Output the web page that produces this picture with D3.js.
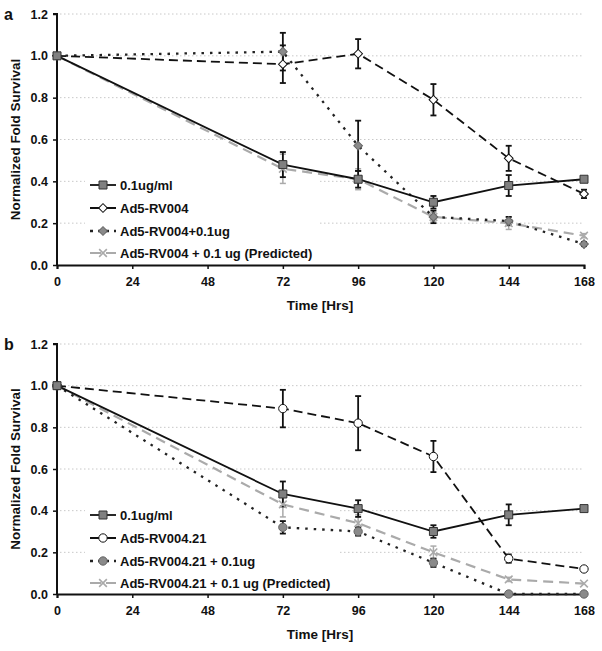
<!DOCTYPE html>
<html>
<head>
<meta charset="utf-8">
<script src="https://cdn.jsdelivr.net/npm/d3@7"></script>
<style>
  body { margin: 0; background: #fff; }
  svg { font-family: "Liberation Sans", Arial, sans-serif; font-weight: bold; }
</style>
</head>
<body>
<script>
// chart data
const hours = [0, 72, 96, 120, 144, 168];
const xTicks = [0, 24, 48, 72, 96, 120, 144, 168];
const yTicks = [0, 0.2, 0.4, 0.6, 0.8, 1.0, 1.2];

// panel a
const aDose = [1.0, 0.48, 0.41, 0.30, 0.38, 0.41];
const aDoseErr = [0, 0.06, 0.04, 0.03, 0.05, 0.01];
const aVirus = [1.0, 0.96, 1.01, 0.79, 0.51, 0.34];
const aVirusErr = [0, 0.09, 0.07, 0.075, 0.06, 0.02];
const aCombo = [1.0, 1.02, 0.57, 0.23, 0.21, 0.10];
const aComboErr = [0, 0.09, 0.12, 0.03, 0.02, 0.01];
const aPred = [1.0, 0.46, 0.41, 0.23, 0.20, 0.14];
const aPredErr = [0, 0.07, 0.05, 0.02, 0.03, 0.01];
const aNames = ["0.1ug/ml", "Ad5-RV004", "Ad5-RV004+0.1ug", "Ad5-RV004 + 0.1 ug (Predicted)"];

// panel b
const bDose = [1.0, 0.48, 0.41, 0.30, 0.38, 0.41];
const bDoseErr = [0, 0.06, 0.04, 0.03, 0.05, 0.01];
const bVirus = [1.0, 0.89, 0.82, 0.66, 0.17, 0.12];
const bVirusErr = [0, 0.09, 0.13, 0.075, 0.02, 0.01];
const bCombo = [1.0, 0.32, 0.30, 0.15, 0.0, 0.0];
const bComboErr = [0, 0.03, 0.02, 0.02, 0, 0];
const bPred = [1.0, 0.43, 0.34, 0.20, 0.07, 0.05];
const bPredErr = [0, 0.06, 0.04, 0.03, 0.01, 0];
const bNames = ["0.1ug/ml", "Ad5-RV004.21", "Ad5-RV004.21 + 0.1ug", "Ad5-RV004.21 + 0.1 ug (Predicted)"];

const W = 602, H = 651;
const svg = d3.select("body").append("svg").attr("width", W).attr("height", H);

// styles for the four series (dose, virus, combo, predicted)
// "diamond" is a square turned 45 degrees, like the spreadsheet marker
function styles(shape) {
  const dia = shape === "diamond";
  const sym = dia ? d3.symbolSquare : d3.symbolCircle;
  return [
    { dash: null, stroke: "#111", width: 1.8, sym: d3.symbolSquare, size: 64, rot: 0, fill: "#808080", mstroke: "#333", err: "#111" },
    { dash: "9,5", stroke: "#111", width: 1.8, sym: sym, size: dia ? 38 : 55, rot: dia ? 45 : 0, fill: "#fff", mstroke: "#111", err: "#111" },
    { dash: "2.5,6", stroke: "#222", width: 2.3, sym: sym, size: dia ? 38 : 55, rot: dia ? 45 : 0, fill: "#8a8a8a", mstroke: "#666", err: "#111" },
    { dash: "10,6", stroke: "#aaa", width: 2.2, sym: d3.symbolTimes, size: 40, rot: 0, fill: "none", mstroke: "#aaa", err: "#aaa" }
  ];
}

function panel(top, bottom, label, series, errs, names, shape, legendBox, legendRows) {
  const x = d3.scaleLinear().domain([0, 168]).range([57, 584]);
  const y = d3.scaleLinear().domain([0, 1.2]).range([bottom, top]);
  const st = styles(shape);
  const g = svg.append("g");

  // gridlines
  g.selectAll(".grid").data(yTicks.filter(d => d > 0)).enter().append("line")
    .attr("x1", 60).attr("x2", 584)
    .attr("y1", d => y(d)).attr("y2", d => y(d))
    .attr("stroke", "#c8c8c8").attr("stroke-width", 1).attr("stroke-dasharray", "1.5,2.5");

  // legend background
  g.append("rect")
    .attr("x", legendBox[0]).attr("y", legendBox[1])
    .attr("width", legendBox[2] - legendBox[0]).attr("height", legendBox[3] - legendBox[1])
    .attr("fill", "#fff");

  // axes
  const xAxis = d3.axisBottom(x).tickValues(xTicks).tickSize(4).tickPadding(8).tickFormat(d3.format("d"));
  const yAxis = d3.axisLeft(y).tickValues(yTicks).tickSize(4).tickPadding(5).tickFormat(d3.format(".1f"));
  const gx = g.append("g").attr("transform", `translate(0,${bottom})`).call(xAxis);
  const gy = g.append("g").attr("transform", "translate(57,0)").call(yAxis);
  [gx, gy].forEach(a => {
    a.select(".domain").attr("stroke", "#111").attr("stroke-width", 2);
    a.selectAll(".tick line").attr("stroke", "#111").attr("stroke-width", 1.5);
    a.selectAll("text").attr("font-size", 12.5).attr("font-weight", "bold")
      .attr("font-family", "Liberation Sans, Arial, sans-serif").attr("fill", "#111");
  });
  gy.select(".domain").attr("d", `M-4,${top}H0V${bottom}`);

  // titles
  g.append("text").attr("x", 320).attr("y", bottom + 45).attr("text-anchor", "middle")
    .attr("font-size", 13.5).attr("fill", "#111").text("Time [Hrs]");
  g.append("text").attr("transform", `translate(20,${(top + bottom) / 2}) rotate(-90)`)
    .attr("text-anchor", "middle").attr("font-size", 13.5).attr("fill", "#111").text("Normalized Fold Survival");
  g.append("text").attr("x", 4).attr("y", top + 6).attr("font-size", 16).attr("fill", "#111").text(label);

  // series: lines, error bars, markers (draw predicted first so it sits underneath)
  const order = [3, 2, 1, 0];
  const line = d3.line().x((d, i) => x(hours[i])).y(d => y(d));
  order.forEach(k => {
    const s = st[k];
    g.append("path").datum(series[k])
      .attr("d", line).attr("fill", "none")
      .attr("stroke", s.stroke).attr("stroke-width", s.width)
      .attr("stroke-dasharray", s.dash);
  });
  order.forEach(k => {
    const s = st[k];
    const pts = series[k].map((v, i) => ({ h: hours[i], v: v, e: errs[k][i] })).filter(p => p.e > 0);
    const eg = g.append("g").attr("stroke", s.err).attr("stroke-width", k === 3 ? 1.5 : 1.8);
    eg.selectAll("line.v").data(pts).enter().append("line")
      .attr("x1", p => x(p.h)).attr("x2", p => x(p.h))
      .attr("y1", p => y(p.v - p.e)).attr("y2", p => y(p.v + p.e));
    eg.selectAll("line.t").data(pts).enter().append("line")
      .attr("x1", p => x(p.h) - 3).attr("x2", p => x(p.h) + 3)
      .attr("y1", p => y(p.v + p.e)).attr("y2", p => y(p.v + p.e));
    eg.selectAll("line.b").data(pts).enter().append("line")
      .attr("x1", p => x(p.h) - 3).attr("x2", p => x(p.h) + 3)
      .attr("y1", p => y(p.v - p.e)).attr("y2", p => y(p.v - p.e));
  });
  order.forEach(k => {
    const s = st[k];
    g.selectAll(null).data(series[k]).enter().append("path")
      .attr("transform", (d, i) => `translate(${x(hours[i])},${y(d)}) rotate(${s.rot})`)
      .attr("d", d3.symbol(s.sym, s.size))
      .attr("fill", s.fill).attr("stroke", s.mstroke).attr("stroke-width", k === 3 ? 1.6 : 1);
  });

  // legend entries
  names.forEach((n, k) => {
    const s = st[k];
    const yy = legendRows[k];
    g.append("line").attr("x1", 90).attr("x2", 116).attr("y1", yy).attr("y2", yy)
      .attr("stroke", s.stroke).attr("stroke-width", s.width)
      .attr("stroke-dasharray", s.dash ? (k === 2 ? "3,5" : "11,5") : null);
    g.append("path").attr("transform", `translate(103,${yy}) rotate(${s.rot})`)
      .attr("d", d3.symbol(s.sym, s.size))
      .attr("fill", s.fill).attr("stroke", s.mstroke)
      .attr("stroke-width", k === 3 ? 1.6 : 1);
    g.append("text").attr("x", 120).attr("y", yy + 4.5).attr("font-size", 13)
      .attr("fill", "#111").text(n);
  });
}

panel(14, 265, "a", [aDose, aVirus, aCombo, aPred], [aDoseErr, aVirusErr, aComboErr, aPredErr],
  aNames, "diamond", [85, 172, 318, 262], [185, 208, 231, 253]);
panel(344, 594, "b", [bDose, bVirus, bCombo, bPred], [bDoseErr, bVirusErr, bComboErr, bPredErr],
  bNames, "circle", [85, 502, 338, 592], [515, 538, 561, 583]);
</script>
</body>
</html>
